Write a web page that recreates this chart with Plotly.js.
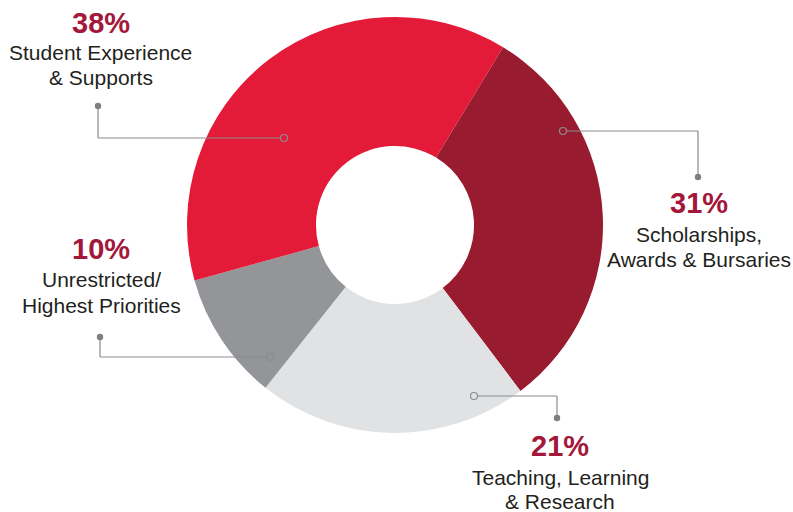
<!DOCTYPE html>
<html>
<head>
<meta charset="utf-8">
<script src="https://cdn.plot.ly/plotly-3.0.1.min.js"></script>
<style>html,body{margin:0;padding:0;background:#fff;}#chart{width:793px;height:512px;}</style>
</head>
<body>
<div id="chart"></div>
<script>
// ---- data ----
const categories = ["Scholarships, Awards & Bursaries", "Teaching, Learning & Research", "Unrestricted/ Highest Priorities", "Student Experience & Supports"];
const values = [31, 21, 10, 38];
const labelLines = [["Scholarships,", "Awards & Bursaries"], ["Teaching, Learning", "& Research"], ["Unrestricted/", "Highest Priorities"], ["Student Experience", "& Supports"]];
const sliceColors = ["#991B2F", "#E1E2E3", "#939598", "#E31A38"];

// ---- layout helpers (pixel -> paper) ----
const W = 793, H = 512;
const px = x => x / W;
const py = y => 1 - y / H;

// label block placement (pixel anchors): text center x, baselines of pct, line1, line2
const labelPos = [
  {cx: 699, base: [213, 241.5, 266.5]},
  {cx: 560, base: [456.5, 485, 509]},
  {cx: 101, base: [259.3, 286.7, 312.5]},
  {cx: 100.5, base: [33.3, 59.5, 85]}
];
// leader: [circle on slice], [corner], [end dot]
const leaders = [
  {c: [563, 131], k: [698, 131], d: [698, 177]},
  {c: [474, 396], k: [557, 396], d: [557, 418]},
  {c: [270, 357], k: [100, 357], d: [100, 337]},
  {c: [284, 138], k: [98, 138], d: [98, 106]}
];

const pctColor = "#A3173A";
const textColor = "#231F20";
const lineColor = "#8C8C8E";
const FONT = "Liberation Sans, Arial, sans-serif";
const pctSize = 29, lblSize = 21;

function textAnn(x, baseline, text, size, color) {
  // middle of a single-line box sits ~0.35em above the baseline
  return {
    xref: "paper", yref: "paper", x: px(x), y: py(baseline - 0.35 * size),
    xanchor: "center", yanchor: "middle", showarrow: false,
    text: text, font: {family: FONT, size: size, color: color}
  };
}

const annotations = [];
const shapes = [];
values.forEach((v, i) => {
  const p = labelPos[i];
  annotations.push(textAnn(p.cx, p.base[0], "<b>" + v + "%</b>", pctSize, pctColor));
  annotations.push(textAnn(p.cx, p.base[1], labelLines[i][0], lblSize, textColor));
  annotations.push(textAnn(p.cx, p.base[2], labelLines[i][1], lblSize, textColor));
  const L = leaders[i];
  shapes.push({type: "line", xref: "paper", yref: "paper", x0: px(L.c[0] + (L.k[0] > L.c[0] ? 3.5 : -3.5)), y0: py(L.c[1]), x1: px(L.k[0]), y1: py(L.k[1]), line: {color: lineColor, width: 1.2}});
  shapes.push({type: "line", xref: "paper", yref: "paper", x0: px(L.k[0]), y0: py(L.k[1]), x1: px(L.d[0]), y1: py(L.d[1]), line: {color: lineColor, width: 1.2}});
  shapes.push({type: "circle", xref: "paper", yref: "paper", x0: px(L.c[0] - 3.5), x1: px(L.c[0] + 3.5), y0: py(L.c[1] - 3.5), y1: py(L.c[1] + 3.5), line: {color: lineColor, width: 1.2}, fillcolor: "rgba(0,0,0,0)"});
  shapes.push({type: "circle", xref: "paper", yref: "paper", x0: px(L.d[0] - 3.2), x1: px(L.d[0] + 3.2), y0: py(L.d[1] - 3.2), y1: py(L.d[1] + 3.2), line: {color: "#7F7F81", width: 0}, fillcolor: "#7F7F81"});
});

const trace = {
  type: "pie",
  labels: categories,
  values: values,
  hole: 0.38,
  sort: false,
  direction: "clockwise",
  rotation: 31.3,
  textinfo: "none",
  hoverinfo: "label+percent",
  marker: {colors: sliceColors, line: {width: 0}},
  domain: {x: [px(395 - 208), px(395 + 208)], y: [py(225 + 208), py(225 - 208)]},
  showlegend: false
};

const layout = {
  width: W, height: H,
  margin: {l: 0, r: 0, t: 0, b: 0},
  paper_bgcolor: "#ffffff",
  showlegend: false,
  annotations: annotations,
  shapes: shapes
};

Plotly.newPlot("chart", [trace], layout, {displayModeBar: false, staticPlot: true});
</script>
</body>
</html>
